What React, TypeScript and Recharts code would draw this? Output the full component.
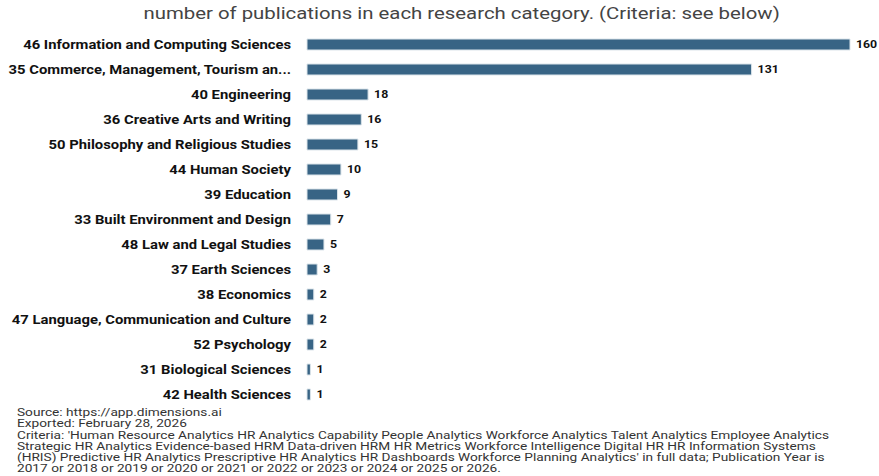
import React from "react";
import { BarChart, Bar, XAxis, YAxis, LabelList } from "recharts";

const categories = [
  "46 Information and Computing Sciences",
  "35 Commerce, Management, Tourism an...",
  "40 Engineering",
  "36 Creative Arts and Writing",
  "50 Philosophy and Religious Studies",
  "44 Human Society",
  "39 Education",
  "33 Built Environment and Design",
  "48 Law and Legal Studies",
  "37 Earth Sciences",
  "38 Economics",
  "47 Language, Communication and Culture",
  "52 Psychology",
  "31 Biological Sciences",
  "42 Health Sciences",
];

const counts = [160, 131, 18, 16, 15, 10, 9, 7, 5, 3, 2, 2, 2, 1, 1];

const title =
  "number of publications in each research category. (Criteria: see below)";

const footerLines = [
  "Source: https://app.dimensions.ai",
  "Exported: February 28, 2026",
  "Criteria: 'Human Resource Analytics HR Analytics Capability People Analytics Workforce Analytics Talent Analytics Employee Analytics",
  "Strategic HR Analytics Evidence-based HRM Data-driven HRM HR Metrics Workforce Intelligence Digital HR HR Information Systems",
  "(HRIS) Predictive HR Analytics Prescriptive HR Analytics HR Dashboards Workforce Planning Analytics' in full data; Publication Year is",
  "2017 or 2018 or 2019 or 2020 or 2021 or 2022 or 2023 or 2024 or 2025 or 2026.",
];

const data = categories.map((c, i) => ({ category: c, count: counts[i] }));

const STRETCH = 1.235;

function CategoryTick(props: any) {
  const { x, y, payload } = props;
  return (
    <text
      x={x}
      y={y}
      dy="0.35em"
      textAnchor="end"
      transform={`translate(${x},${y}) scale(${STRETCH},1) translate(${-x},${-y})`}
      style={{
        fontFamily: "Roboto",
        fontWeight: "bold",
        fontSize: 12,
        fill: "#111",
      }}
    >
      {payload.value}
    </text>
  );
}

function ValueLabel(props: any) {
  const { x, y, width, height, value } = props;
  const tx = x + width + 6;
  const ty = y + height / 2;
  return (
    <text
      x={tx}
      y={ty}
      dy="0.35em"
      textAnchor="start"
      transform={`translate(${tx},${ty}) scale(1.12,1) translate(${-tx},${-ty})`}
      style={{
        fontFamily: "Roboto",
        fontWeight: "bold",
        fontSize: 11,
        fill: "#111",
      }}
    >
      {value}
    </text>
  );
}

export default function App() {
  return (
    <div
      style={{
        position: "absolute",
        left: 0,
        top: 0,
        width: 879,
        height: 476,
        background: "#fff",
        overflow: "hidden",
      }}
    >
      <div
        style={{
          position: "absolute",
          top: 3,
          left: 0,
          width: 923,
          textAlign: "center",
          fontFamily: "Roboto",
          fontSize: 17,
          color: "#444",
          transform: "scaleX(1.197)",
          transformOrigin: "461px 0",
          whiteSpace: "nowrap",
        }}
      >
        {title}
      </div>
      <div style={{ position: "absolute", left: 0, top: 0 }}>
        <BarChart
          width={879}
          height={410}
          data={data}
          layout="vertical"
          margin={{ top: 32, right: 29, bottom: 3, left: 0 }}
          barCategoryGap="28%"
        >
          <XAxis type="number" domain={[0, 160]} hide />
          <YAxis
            type="category"
            dataKey="category"
            width={307}
            axisLine={false}
            tickLine={false}
            tickSize={0}
            tickMargin={16}
            interval={0}
            tick={<CategoryTick />}
          />
          <Bar
            dataKey="count"
            fill="#386485"
            stroke="#dbe4ea"
            strokeWidth={1}
            isAnimationActive={false}
          >
            <LabelList dataKey="count" content={<ValueLabel />} />
          </Bar>
        </BarChart>
      </div>
      <div
        style={{
          position: "absolute",
          left: 17,
          top: 407,
          fontFamily: "Roboto",
          fontSize: 11,
          lineHeight: "11.3px",
          color: "#333",
          whiteSpace: "nowrap",
          transform: "scaleX(1.243)",
          transformOrigin: "0 0",
        }}
      >
        {footerLines.map((l, i) => (
          <div key={i}>{l}</div>
        ))}
      </div>
    </div>
  );
}
